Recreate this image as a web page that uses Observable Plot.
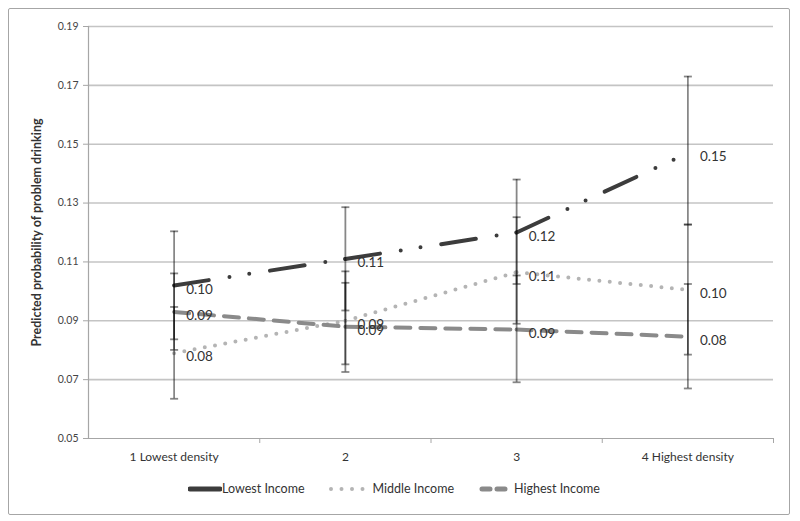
<!DOCTYPE html>
<html><head><meta charset="utf-8">
<script src="https://cdn.jsdelivr.net/npm/d3@7"></script>
<script src="https://cdn.jsdelivr.net/npm/@observablehq/plot@0.6"></script>
<style>
body{margin:0;background:#fff;font-family:Lato,"Open Sans",sans-serif;}
#wrap{position:relative;width:800px;height:521px;overflow:hidden;background:#fff;}
#frame{position:absolute;left:8px;top:8px;width:782px;height:507px;border:1px solid #a6a6a6;border-radius:2px;box-sizing:border-box;}
#chart{position:absolute;left:0;top:0;}
#legend{position:absolute;top:481px;left:188px;display:flex;align-items:center;font-size:12.5px;color:#333;white-space:nowrap;}
#legend .it{display:flex;align-items:center;}
#legend svg{display:block;}
</style></head>
<body><div id="wrap"><div id="frame"></div><div id="chart"></div><div id="legend"></div></div>
<script>
// ---- data ----
const categories = ["1 Lowest density", "2", "3", "4 Highest density"];
const seriesNames = ["Lowest Income", "Middle Income", "Highest Income"];
const lowestIncome  = [0.102, 0.111, 0.120, 0.147];
const middleIncome  = [0.079, 0.090, 0.1065, 0.1005];
const highestIncome = [0.093, 0.088, 0.087, 0.0846];
const lowestLo  = [0.0837, 0.0935, 0.1025, 0.1227];
const lowestHi  = [0.1204, 0.1286, 0.1380, 0.1730];
const middleLo  = [0.0635, 0.0752, 0.0890, 0.0785];
const middleHi  = [0.0947, 0.1068, 0.1252, 0.1227];
const highestLo = [0.0801, 0.0726, 0.0691, 0.0670];
const highestHi = [0.1061, 0.1029, 0.1054, 0.1025];
const yTicks = [0.05, 0.07, 0.09, 0.11, 0.13, 0.15, 0.17, 0.19];
const yLabel = "Predicted probability of problem drinking";

// ---- styles ----
const colors = {"Lowest Income": "#3c3c3c", "Middle Income": "#b4b4b4", "Highest Income": "#8a8a8a"};
const dashes = {"Lowest Income": "35,21,0,20,0,21", "Middle Income": "0,10.4", "Highest Income": "15,10"};

const values = [lowestIncome, middleIncome, highestIncome];
const los = [lowestLo, middleLo, highestLo];
const his = [lowestHi, middleHi, highestHi];

const rows = [];
const segs = [];
seriesNames.forEach((s, k) => {
  values[k].forEach((v, i) => rows.push({series: s, x: i + 1, y: v, lo: los[k][i], hi: his[k][i]}));
  for (let i = 0; i < values[k].length - 1; i++)
    segs.push({series: s, x1: i + 1, y1: values[k][i], x2: i + 2, y2: values[k][i + 1]});
});
const boundaries = categories.map((c, i) => i + 1.5);

const cap = {draw(ctx, size) { const r = Math.sqrt(size / Math.PI); ctx.moveTo(-r, 0); ctx.lineTo(r, 0); }};

const lineMarks = seriesNames.map(s => Plot.link(segs.filter(d => d.series === s), {
  x1: "x1", y1: "y1", x2: "x2", y2: "y2",
  stroke: colors[s], strokeWidth: 4, strokeDasharray: dashes[s], strokeLinecap: "round"
}));

const ebStyle = {stroke: "#000", strokeOpacity: 0.47, strokeWidth: 1.8};

const plot = Plot.plot({
  width: 800, height: 474,
  marginLeft: 88, marginRight: 27, marginTop: 26, marginBottom: 36,
  style: {fontFamily: "Lato, 'Open Sans', sans-serif", fontSize: "12px", color: "#333", background: "transparent"},
  x: {domain: [0.5, categories.length + 0.5]},
  y: {domain: [yTicks[0], yTicks[yTicks.length - 1]]},
  marks: [
    Plot.gridY(yTicks.slice(1), {stroke: "#c4c4c4", strokeWidth: 1.6, strokeOpacity: 1}),
    Plot.ruleY([yTicks[0]], {stroke: "#a6a6a6", strokeWidth: 1.2}),
    Plot.ruleX([0.5], {stroke: "#a6a6a6", strokeWidth: 1.2}),
    Plot.axisY(yTicks, {tickFormat: d3.format(".2f"), tickSize: 5, tickPadding: 5, stroke: "#a6a6a6", fontSize: 10.5, fill: "#444", label: null}),
    Plot.axisX(boundaries, {tickFormat: () => "", tickSize: 5, stroke: "#a6a6a6", label: null}),
    Plot.axisX(categories.map((c, i) => i + 1), {tickFormat: d => categories[d - 1], tickSize: 0, tickPadding: 14, fontSize: 12, fill: "#333", label: null}),
    Plot.text([yLabel], {frameAnchor: "left", textAnchor: "middle", rotate: -90, dx: -52, fontSize: 12.5, fontWeight: "bold", fill: "#333"}),
    ...lineMarks,
    Plot.ruleX(rows, {x: "x", y1: "lo", y2: "hi", ...ebStyle}),
    Plot.dot(rows, {x: "x", y: "lo", symbol: cap, r: 4, fill: "none", ...ebStyle}),
    Plot.dot(rows, {x: "x", y: "hi", symbol: cap, r: 4, fill: "none", ...ebStyle}),
    Plot.text(rows, {x: "x", y: "y", text: d => d3.format(".2f")(d.y), dx: 12, dy: 4, textAnchor: "start", fontSize: 13.5, fill: "#333"})
  ]
});
document.getElementById("chart").appendChild(plot);

// ---- legend ----
const legend = document.getElementById("legend");
const samples = {
  "Lowest Income": `<svg width="34" height="10"><line x1="2" y1="5" x2="32" y2="5" stroke="${colors["Lowest Income"]}" stroke-width="5" stroke-linecap="round"/></svg>`,
  "Middle Income": `<svg width="42" height="10"><line x1="3" y1="5" x2="39" y2="5" stroke="${colors["Middle Income"]}" stroke-width="4" stroke-linecap="round" stroke-dasharray="0,10.5"/></svg>`,
  "Highest Income": `<svg width="32" height="10"><line x1="3" y1="5" x2="30" y2="5" stroke="${colors["Highest Income"]}" stroke-width="5" stroke-linecap="round" stroke-dasharray="8,7"/></svg>`
};
const gaps = [0, 23, 25];
seriesNames.forEach((s, k) => {
  const it = document.createElement("div");
  it.className = "it";
  it.style.marginLeft = gaps[k] + "px";
  it.innerHTML = samples[s] + `<span style="margin-left:${k === 0 ? 0 : 3}px">${s}</span>`;
  legend.appendChild(it);
});
</script></body></html>
